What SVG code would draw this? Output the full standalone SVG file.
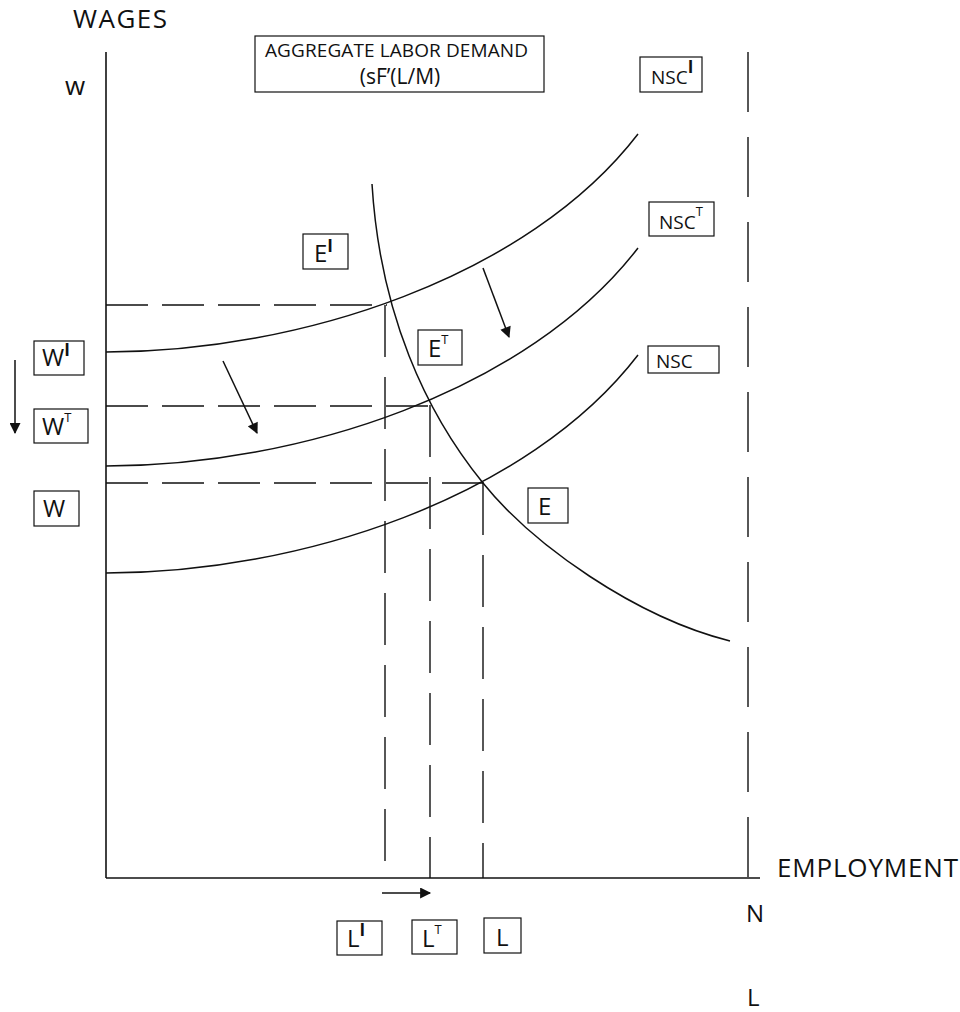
<svg xmlns="http://www.w3.org/2000/svg" width="960" height="1012" viewBox="0 0 960 1012">
<defs>
<style>
text{font-family:"Open Sans","Noto Sans","Liberation Sans",sans-serif;fill:#111}
.ax{stroke:#111;stroke-width:1.6;fill:none}
.cv{stroke:#111;stroke-width:1.5;fill:none}
.dh{stroke:#111;stroke-width:1.4;fill:none;stroke-dasharray:42 14}
.dv{stroke:#111;stroke-width:1.4;fill:none;stroke-dasharray:52 20}
.box{fill:#fff;stroke:#111;stroke-width:1.2}
.lbl{font-size:24px}
.sm{font-size:19px}
.supI{font-size:17px;font-weight:bold}
.supT{font-size:13px}
.arr{stroke:#111;stroke-width:1.5;fill:none;marker-end:url(#ah)}
</style>
<marker id="ah" viewBox="0 0 10 10" refX="9" refY="5" markerWidth="12" markerHeight="11" markerUnits="userSpaceOnUse" orient="auto">
<path d="M0,0 L10,5 L0,10 z" fill="#111"/>
</marker>
</defs>
<rect width="960" height="1012" fill="#fff"/>

<g id="axes">
<line class="ax" x1="106" y1="52" x2="106" y2="878"/>
<line class="ax" x1="106" y1="878" x2="760" y2="878"/>
<line class="dv" style="stroke-dasharray:60 25" x1="748" y1="52" x2="748" y2="878"/>
<text x="73" y="28" style="font-size:26px" textLength="94">WAGES</text>
<text x="65" y="95" style="font-size:26px">w</text>
<text x="777" y="877" style="font-size:26px" textLength="181">EMPLOYMENT</text>
<text x="746" y="922" style="font-size:24px">N</text>
<text x="747" y="1006" style="font-size:24px">L</text>
</g>

<g id="connectors">
<path id="nscI" class="cv" d="M106,352 C300,352 528,277 638,134"/>
<path id="nscT" class="cv" d="M106,466 C300,466 528,391 638,248"/>
<path id="nsc" class="cv" d="M106,573 C300,573 528,498 638,355"/>
<path id="demand" class="cv" d="M372,184 C380,314 426,413 483,483 C533,545 635,617 730,641"/>
<line class="dh" x1="106" y1="305" x2="387" y2="305"/>
<line class="dh" x1="106" y1="406" x2="430" y2="406"/>
<line class="dh" x1="106" y1="483" x2="484" y2="483"/>
<line class="dv" x1="385" y1="305" x2="385" y2="878"/>
<line class="dv" x1="430" y1="405" x2="430" y2="878"/>
<line class="dv" x1="483" y1="483" x2="483" y2="878"/>
<line class="arr" x1="483" y1="268" x2="509" y2="337"/>
<line class="arr" x1="223" y1="361" x2="257" y2="433"/>
<line class="arr" x1="15" y1="360" x2="15" y2="433"/>
<line class="arr" x1="382" y1="893" x2="430" y2="893"/>
</g>

<g id="demand-label">
<rect class="box" x="255" y="36" width="289" height="56"/>
<text x="265" y="57" class="sm" textLength="263">AGGREGATE LABOR DEMAND</text>
<text x="400" y="84" style="font-size:21px" text-anchor="middle">(sF’(L/M)</text>
</g>

<g id="NSCI">
<rect class="box" x="640" y="57" width="62" height="35"/>
<text x="651" y="84" class="sm">NSC<tspan class="supI" dy="-11">I</tspan></text>
</g>
<g id="NSCT">
<rect class="box" x="649" y="202" width="65" height="34"/>
<text x="659" y="229" class="sm">NSC<tspan class="supT" dy="-13">T</tspan></text>
</g>
<g id="NSC">
<rect class="box" x="648" y="346" width="71" height="27"/>
<text x="656" y="368" class="sm">NSC</text>
</g>

<g id="EI">
<rect class="box" x="303" y="234" width="45" height="35"/>
<text x="314" y="262" class="lbl">E<tspan class="supI" dy="-10">I</tspan></text>
</g>
<g id="ET">
<rect class="box" x="418" y="330" width="44" height="35"/>
<text x="428" y="357" class="lbl">E<tspan class="supT" dy="-13">T</tspan></text>
</g>
<g id="E">
<rect class="box" x="528" y="488" width="40" height="35"/>
<text x="538" y="515" class="lbl">E</text>
</g>

<g id="WI">
<rect class="box" x="34" y="341" width="50" height="34"/>
<text x="42" y="366" class="lbl">W<tspan class="supI" dy="-10">I</tspan></text>
</g>
<g id="WT">
<rect class="box" x="34" y="409" width="54" height="34"/>
<text x="42" y="435" class="lbl">W<tspan class="supT" dy="-13">T</tspan></text>
</g>
<g id="W">
<rect class="box" x="34" y="491" width="45" height="35"/>
<text x="43" y="517" class="lbl">W</text>
</g>

<g id="LI">
<rect class="box" x="337" y="921" width="45" height="34"/>
<text x="347" y="947" class="lbl">L<tspan class="supI" dy="-11">I</tspan></text>
</g>
<g id="LT">
<rect class="box" x="412" y="920" width="45" height="34"/>
<text x="422" y="947" class="lbl">L<tspan class="supT" dy="-13">T</tspan></text>
</g>
<g id="L">
<rect class="box" x="484" y="918" width="37" height="35"/>
<text x="496" y="946" class="lbl">L</text>
</g>
</svg>
